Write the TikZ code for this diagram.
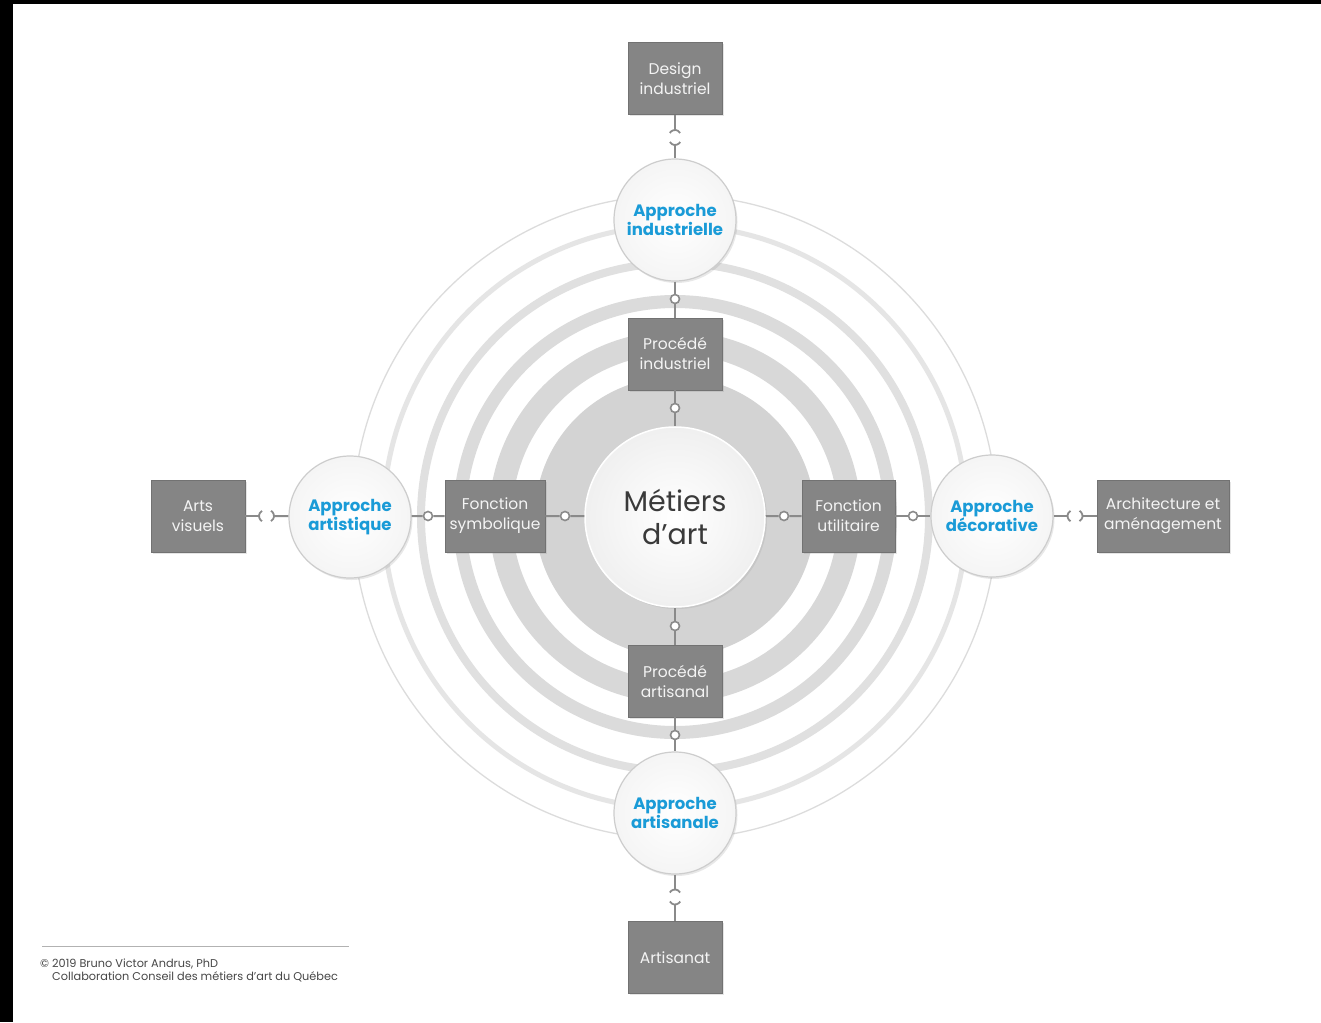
\documentclass[tikz,border=0pt]{standalone}
\usepackage{fontspec}
\setmainfont{Poppins}
\newfontfamily\plight{Poppins Light}
\usetikzlibrary{shadows}
\definecolor{boxg}{HTML}{858585}
\definecolor{boxe}{HTML}{727272}
\definecolor{boxt}{HTML}{F4F4F4}
\definecolor{lineg}{HTML}{8A8A8A}
\definecolor{cyanb}{HTML}{1A9BD7}
\definecolor{circe}{HTML}{CDCDCD}
\definecolor{ringO}{HTML}{DCDCDC}
\definecolor{ringD}{HTML}{E5E5E5}
\definecolor{ringC}{HTML}{E0E0E0}
\definecolor{ringB}{HTML}{DBDBDB}
\definecolor{ringA}{HTML}{D8D8D8}
\definecolor{diskg}{HTML}{D3D3D3}
\definecolor{ctext}{HTML}{3A3A3A}
\tikzset{
  gbox/.style={rectangle, fill=boxg, draw=boxe, line width=0.8pt, text=boxt,
    font=\fontsize{15.5}{20}\selectfont, align=center,
    minimum width=94pt, minimum height=72pt, inner sep=0pt,
    drop shadow={opacity=0.2, shadow xshift=1.5pt, shadow yshift=-1.5pt}},
  appr/.style={circle, minimum size=122pt, inner sep=0pt, draw=circe, line width=1.2pt,
    inner color=white, outer color=black!4, text=cyanb,
    font=\bfseries\fontsize{16.5}{19}\selectfont, align=center,
    drop shadow={opacity=0.18, shadow xshift=1.5pt, shadow yshift=-2pt}},
  core/.style={circle, minimum size=180pt, inner sep=0pt, draw=white, line width=1.5pt,
    inner color=white, outer color=black!6, text=ctext,
    font=\fontsize{28.5}{33}\selectfont, align=center,
    drop shadow={opacity=0.15, shadow xshift=2pt, shadow yshift=-2pt}},
  conn/.style={draw=lineg, line width=2pt},
  sock/.style={draw=lineg, line width=1.8pt},
  odot/.style={circle, draw=lineg, line width=1.6pt, fill=white, minimum size=9pt, inner sep=0pt},
  credit/.style={anchor=base west, inner sep=0pt, text=black!72, font=\fontsize{11.3}{13}\selectfont},
}
\begin{document}
\begin{tikzpicture}[x=1pt,y=-1pt]
\useasboundingbox (0,0) rectangle (1321,1022);
\fill[black] (0,0) rectangle (1321,1022);
\fill[white] (13,4) rectangle (1321,1022);
% rings
\coordinate (ctr) at (675,517);
\draw[ringO, line width=1.3pt] (ctr) circle[radius=322];
\draw[ringD, line width=5pt] (ctr) circle[radius=291.5];
\draw[ringC, line width=8pt] (ctr) circle[radius=254];
\draw[ringB, line width=13pt] (ctr) circle[radius=215.5];
\draw[ringA, line width=23pt] (ctr) circle[radius=174.5];
\fill[diskg] (ctr) circle[radius=140];
% nodes
\node[core] (ma) at (675,517) {Métiers\\d’art};
\node[appr] (ai) at (675,220) {Approche\\industrielle};
\node[appr] (aa) at (675,813) {Approche\\artisanale};
\node[appr] (ar) at (350,517) {Approche\\artistique};
\node[appr] (ad) at (992,516) {Approche\\décorative};
\node[gbox] (di) at (675,78.5) {Design\\industriel};
\node[gbox] (pi) at (675,354) {Procédé\\industriel};
\node[gbox] (pa) at (675,681) {Procédé\\artisanal};
\node[gbox] (at) at (675,957.5) {Artisanat};
\node[gbox] (av) at (198,516) {Arts\\visuels};
\node[gbox, minimum width=100pt] (fs) at (495,516) {Fonction\\symbolique};
\node[gbox, minimum width=93pt] (fu) at (848.5,516) {Fonction\\utilitaire};
\node[gbox, minimum width=132pt] (aam) at (1163,516) {Architecture et\\aménagement};
% small ring connectors
\node[odot] (o1) at (675,299) {};
\node[odot] (o2) at (675,408) {};
\node[odot] (o3) at (675,626) {};
\node[odot] (o4) at (675,735) {};
\node[odot] (o5) at (428,516) {};
\node[odot] (o6) at (565,516) {};
\node[odot] (o7) at (784,516) {};
\node[odot] (o8) at (913,516) {};
\draw[conn] (ai) -- (o1) -- (pi);
\draw[conn] (pi) -- (o2) -- (ma);
\draw[conn] (ma) -- (o3) -- (pa);
\draw[conn] (pa) -- (o4) -- (aa);
\draw[conn] (ar) -- (o5) -- (fs);
\draw[conn] (fs) -- (o6) -- (ma);
\draw[conn] (ma) -- (o7) -- (fu);
\draw[conn] (fu) -- (o8) -- (ad);
% socket connectors
\coordinate (t1) at (675,130);
\coordinate (t2) at (675,145);
\draw[conn] (di) -- (t1);
\draw[conn] (t2) -- (ai);
\draw[sock] (t1) ++(-5.2,3) arc[start angle=210, end angle=330, radius=6];
\draw[sock] (t2) ++(5.2,-3) arc[start angle=30, end angle=150, radius=6];
\coordinate (b1) at (675,889.5);
\coordinate (b2) at (675,904.5);
\draw[conn] (aa) -- (b1);
\draw[conn] (b2) -- (at);
\draw[sock] (b1) ++(-5.2,3) arc[start angle=210, end angle=330, radius=6];
\draw[sock] (b2) ++(5.2,-3) arc[start angle=30, end angle=150, radius=6];
\coordinate (l1) at (259,516);
\coordinate (l2) at (274,516);
\draw[conn] (av) -- (l1);
\draw[conn] (l2) -- (ar);
\draw[sock] (l1) ++(3,5.2) arc[start angle=120, end angle=240, radius=6];
\draw[sock] (l2) ++(-3,-5.2) arc[start angle=-60, end angle=60, radius=6];
\coordinate (r1) at (1067.5,516);
\coordinate (r2) at (1082.5,516);
\draw[conn] (ad) -- (r1);
\draw[conn] (r2) -- (aam);
\draw[sock] (r1) ++(3,5.2) arc[start angle=120, end angle=240, radius=6];
\draw[sock] (r2) ++(-3,-5.2) arc[start angle=-60, end angle=60, radius=6];
% credits
\coordinate (cl1) at (42,946);
\coordinate (cl2) at (349,946);
\draw[black!30, line width=0.8pt] (cl1) -- (cl2);
\node[credit] (c1) at (40,967) {© 2019 Bruno Victor Andrus, PhD};
\node[credit] (c2) at (52,980) {Collaboration Conseil des métiers d’art du Québec};
\end{tikzpicture}
\end{document}
